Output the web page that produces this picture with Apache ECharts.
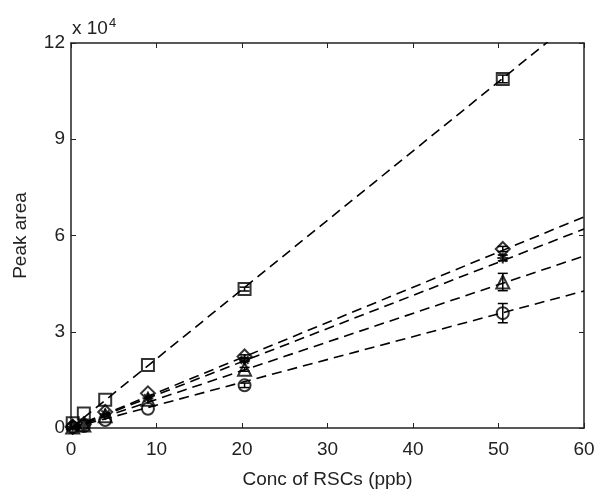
<!DOCTYPE html>
<html>
<head>
<meta charset="utf-8">
<script src="https://cdn.jsdelivr.net/npm/echarts@6/dist/echarts.min.js"></script>
<style>
  html, body { margin: 0; padding: 0; background: #fff; }
  #chart { width: 597px; height: 491px; }
</style>
</head>
<body>
<div id="chart"></div>
<script>
// concentrations (ppb)
const conc = [0.2, 1.5, 4, 9, 20.3, 50.5];

// peak areas per compound
const squareVals = [1500, 4500, 8800, 19600, 43300, 108800];
const diamondVals = [400, 1200, 5000, 10800, 22300, 55800];
const starVals = [350, 1000, 4300, 9300, 21200, 53000];
const triangleVals = [300, 900, 3800, 9000, 18300, 45500];
const circleVals = [200, 600, 2500, 6000, 13300, 35800];

// error bar half widths
const squareErr = [0, 0, 0, 0, 600, 1200];
const diamondErr = [0, 0, 0, 0, 500, 800];
const starErr = [0, 0, 0, 0, 500, 900];
const triangleErr = [0, 0, 0, 0, 600, 2700];
const circleErr = [0, 0, 0, 0, 700, 3000];

// fitted lines, end points at x = 0 and x = 60
const fitX = [0, 60];
const squareFit = [0, 129500];
const diamondFit = [0, 65800];
const starFit = [0, 62000];
const triangleFit = [0, 53600];
const circleFit = [0, 42700];

const xTicks = [0, 10, 20, 30, 40, 50, 60];
const yTicks = [0, 3, 6, 9, 12];

const starPath = 'path://M10,0L10,20M0,10L20,10M3,3L17,17M3,17L17,3';

const chart = echarts.init(document.getElementById('chart'));

function pts(vals) {
  return conc.map((x, i) => [x, vals[i]]);
}
function errs(vals, e) {
  return conc.map((x, i) => [x, vals[i] - e[i], vals[i] + e[i]]).filter((d, i) => e[i] > 0);
}
function fitLine(f) {
  return fitX.map((x, i) => [x, f[i]]);
}

function errorBar(params, api) {
  const x = api.value(0);
  const lo = api.coord([x, api.value(1)]);
  const hi = api.coord([x, api.value(2)]);
  const w = 5;
  const st = { stroke: '#000', lineWidth: 1.5 };
  return {
    type: 'group',
    children: [
      { type: 'line', shape: { x1: lo[0], y1: lo[1], x2: hi[0], y2: hi[1] }, style: st },
      { type: 'line', shape: { x1: lo[0] - w, y1: lo[1], x2: lo[0] + w, y2: lo[1] }, style: st },
      { type: 'line', shape: { x1: hi[0] - w, y1: hi[1], x2: hi[0] + w, y2: hi[1] }, style: st }
    ]
  };
}

const groups = [
  { vals: squareVals, err: squareErr, fit: squareFit, symbol: 'rect', size: 12 },
  { vals: diamondVals, err: diamondErr, fit: diamondFit, symbol: 'diamond', size: 14 },
  { vals: starVals, err: starErr, fit: starFit, symbol: starPath, size: 11 },
  { vals: triangleVals, err: triangleErr, fit: triangleFit, symbol: 'triangle', size: 13 },
  { vals: circleVals, err: circleErr, fit: circleFit, symbol: 'circle', size: 12 }
];

const series = [];
groups.forEach(g => {
  series.push({
    type: 'line',
    data: fitLine(g.fit),
    showSymbol: false,
    silent: true,
    clip: true,
    lineStyle: { color: '#000', width: 1.6, type: [10, 6] },
    z: 1
  });
  series.push({
    type: 'custom',
    data: errs(g.vals, g.err),
    renderItem: errorBar,
    silent: true,
    z: 2
  });
  series.push({
    type: 'scatter',
    data: pts(g.vals),
    symbol: g.symbol,
    symbolSize: g.size,
    itemStyle: { color: 'rgba(0,0,0,0)', borderColor: '#000', borderWidth: 2 },
    z: 3
  });
});

// empty series so the top and right axes are drawn
series.push({ type: 'scatter', xAxisIndex: 1, yAxisIndex: 1, data: [[0, 0]], symbolSize: 0, silent: true });

const fontFamily = '"Liberation Sans", Arial, sans-serif';
const txt = '#222';
const fs = 19;

function makeLine() {
  return { show: true, onZero: false, lineStyle: { color: '#222', width: 1.5 } };
}
function makeTick() {
  return { show: true, inside: true, length: 5, lineStyle: { color: '#222', width: 1 } };
}

chart.setOption({
  animation: false,
  backgroundColor: '#fff',
  textStyle: { fontFamily: fontFamily },
  grid: { left: 71, right: 13, top: 43, bottom: 63, containLabel: false, outerBoundsMode: 'none' },
  xAxis: [
    {
      type: 'value', min: 0, max: 60, interval: 10, position: 'bottom',
      name: 'Conc of RSCs (ppb)', nameLocation: 'middle', nameGap: 42,
      nameTextStyle: { color: txt, fontSize: fs, fontFamily: fontFamily },
      axisLine: makeLine(), axisTick: makeTick(), splitLine: { show: false },
      axisLabel: { color: txt, fontSize: fs, margin: 12, fontFamily: fontFamily,
        formatter: v => xTicks.includes(v) ? String(v) : '' }
    },
    {
      type: 'value', min: 0, max: 60, interval: 10, position: 'top',
      axisLine: makeLine(), axisTick: makeTick(), axisLabel: { show: false }, splitLine: { show: false }
    }
  ],
  yAxis: [
    {
      type: 'value', min: 0, max: 120000, interval: 30000, position: 'left',
      name: 'Peak area', nameLocation: 'middle', nameGap: 41,
      nameTextStyle: { color: txt, fontSize: fs, fontFamily: fontFamily },
      axisLine: makeLine(), axisTick: makeTick(), splitLine: { show: false },
      axisLabel: { color: txt, fontSize: fs, margin: 6, fontFamily: fontFamily,
        formatter: v => yTicks.includes(v / 10000) ? String(v / 10000) : '' }
    },
    {
      type: 'value', min: 0, max: 120000, interval: 30000, position: 'right',
      axisLine: makeLine(), axisTick: makeTick(), axisLabel: { show: false }, splitLine: { show: false }
    }
  ],
  graphic: [
    {
      type: 'text', left: 72, top: 17,
      style: {
        text: 'x 10{sup|4}',
        fill: txt, fontSize: fs, fontFamily: fontFamily,
        rich: { sup: { fontSize: 13, verticalAlign: 'top', padding: [0, 0, 10, 1], fill: txt, fontFamily: fontFamily } }
      }
    }
  ],
  series: series
});
</script>
</body>
</html>
